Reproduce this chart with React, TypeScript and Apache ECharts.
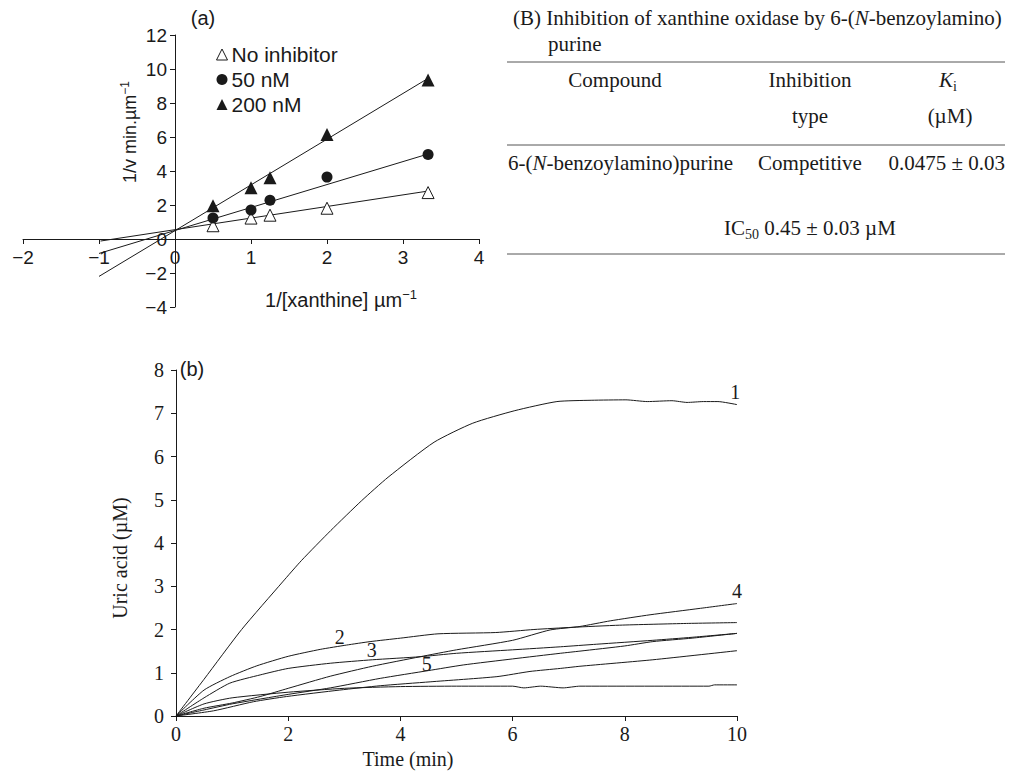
import React, { useEffect, useRef } from "react";
import * as echarts from "echarts";

// ---------- Panel (a): Lineweaver–Burk ----------
const invXanthine = [0.5, 1, 1.25, 2, 3.33];
const noInhibitor = [0.78, 1.23, 1.4, 1.81, 2.73];
const nm50 = [1.23, 1.7, 2.28, 3.64, 4.97];
const nm200 = [1.95, 3.02, 3.6, 6.14, 9.36];
// fitted straight lines: [x, y] end points
const fitNoInhibitor = [[-0.98, -0.12], [3.33, 2.82]];
const fit50 = [[-1.0, -0.85], [3.33, 5.0]];
const fit200 = [[-1.0, -2.2], [3.33, 9.45]];

// ---------- Panel (b): uric acid vs time ----------
const c1T = [0, 0.5, 1.17, 1.9, 2.24, 2.76, 3.31, 3.78, 4.6, 5.29, 6.04, 6.79, 7.4, 8.02, 8.4, 8.84, 9.11, 9.4, 9.66, 10];
const c1V = [0, 0.85, 2.0, 3.1, 3.6, 4.29, 4.98, 5.52, 6.33, 6.77, 7.06, 7.27, 7.3, 7.31, 7.27, 7.29, 7.25, 7.27, 7.27, 7.2];
const c2T = [0, 0.5, 0.96, 1.44, 2.0, 2.57, 3.04, 3.46, 4.0, 4.67, 5.7, 6.38, 7.06, 7.91, 9.1, 10];
const c2V = [0, 0.6, 0.91, 1.16, 1.38, 1.54, 1.64, 1.72, 1.8, 1.9, 1.93, 2.0, 2.05, 2.1, 2.14, 2.16];
const c3T = [0, 0.5, 0.96, 1.5, 2.0, 2.75, 3.5, 4.35, 5.0, 6.0, 6.85, 7.5, 8.5, 9.2, 10];
const c3V = [0, 0.42, 0.76, 0.95, 1.1, 1.22, 1.3, 1.37, 1.45, 1.53, 1.6, 1.66, 1.75, 1.82, 1.91];
const c4T = [0, 0.5, 1, 1.5, 2, 2.75, 3.5, 4.35, 5, 6, 6.67, 7.2, 7.74, 8.45, 9.35, 10];
const c4V = [0, 0.18, 0.3, 0.45, 0.64, 0.92, 1.15, 1.37, 1.53, 1.75, 1.99, 2.07, 2.2, 2.34, 2.49, 2.6];
const c5T = [0, 0.5, 1, 2, 2.75, 3.64, 4.5, 5.12, 6, 6.85, 7.2, 8, 8.5, 9.2, 10];
const c5V = [0, 0.14, 0.28, 0.5, 0.65, 0.87, 1.05, 1.18, 1.32, 1.45, 1.5, 1.62, 1.72, 1.8, 1.91];
const c6T = [0, 0.5, 1, 2, 3, 4, 5, 6, 6.2, 6.5, 6.9, 7.2, 9.5, 9.6, 10];
const c6V = [0, 0.28, 0.42, 0.55, 0.64, 0.68, 0.69, 0.69, 0.65, 0.69, 0.65, 0.69, 0.69, 0.72, 0.72];
const c7T = [0, 0.67, 1.38, 1.97, 2.92, 3.64, 4.53, 5.72, 6.31, 6.85, 7.2, 8.5, 10];
const c7V = [0, 0.12, 0.33, 0.45, 0.6, 0.7, 0.79, 0.91, 1.03, 1.1, 1.15, 1.3, 1.51];
const curveNames = ["1", "2", "3", "4", "5", "6", "7"];
// label anchor positions (data coordinates) for the curve numbers
const curveLabelT = [9.97, 2.92, 3.49, 10.0, 4.47, 10.17, 10.17];
const curveLabelV = [7.48, 1.83, 1.53, 2.9, 1.2, 0.75, 1.41];

const SANS = "Liberation Sans";
const SERIF = "Liberation Serif";
const INK = "#1a1a1a";

const zip = (xs: number[], ys: number[]) => xs.map((x, i) => [x, ys[i]]);
const minus = (v: number) => String(v).replace("-", "\u2212");

export default function App() {
  const ref = useRef<HTMLDivElement>(null);
  useEffect(() => {
    const chart = echarts.init(ref.current!, null, { renderer: "svg" });
    const curves = [zip(c1T, c1V), zip(c2T, c2V), zip(c3T, c3V), zip(c4T, c4V), zip(c5T, c5V), zip(c6T, c6V), zip(c7T, c7V)];

    const tableRich = {
      a: { fontFamily: SERIF, fontSize: 21, fill: INK, lineHeight: 26, verticalAlign: "middle" },
      i: { fontFamily: SERIF, fontSize: 21, fontStyle: "italic", fill: INK, lineHeight: 26, verticalAlign: "middle" },
      s: { fontFamily: SERIF, fontSize: 14, fill: INK, lineHeight: 26, verticalAlign: "bottom" },
    };
    const serifRich = {
      a: { fontFamily: SERIF, fontSize: 20, fill: INK, lineHeight: 24, verticalAlign: "middle" },
    };
    const sansRich = {
      a: { fontFamily: SANS, fontSize: 20, fill: INK, lineHeight: 24, verticalAlign: "middle" },
      y: { fontFamily: SANS, fontSize: 18, fill: INK, lineHeight: 22, verticalAlign: "middle" },
      b: { fontFamily: SANS, fontSize: 20, fill: INK, lineHeight: 22, verticalAlign: "middle" },
      p: { fontFamily: SANS, fontSize: 13, fill: INK, lineHeight: 24, verticalAlign: "top" },
      q: { fontFamily: SANS, fontSize: 12, fill: INK, lineHeight: 22, verticalAlign: "top" },
    };
    const rt = (x: number, y: number, text: string, rich: any, align = "left", rotation = 0) => ({
      type: "text",
      x,
      y,
      rotation,
      style: {
        text,
        rich,
        align,
        verticalAlign: "middle",
        textAlign: align,
        textVerticalAlign: "middle",
      },
    });
    const hline = (x1: number, x2: number, y: number) => ({
      type: "line",
      shape: { x1, y1: y, x2, y2: y },
      style: { stroke: "#555", lineWidth: 1 },
    });

    const lineStyleA = { color: INK, width: 1 };

    chart.setOption({
      animation: false,
      backgroundColor: "#fff",
      grid: [
        { left: 23, top: 35, width: 456, height: 272 },
        { left: 176, top: 370, width: 561, height: 346 },
      ],
      xAxis: [
        {
          gridIndex: 0, type: "value", min: -2, max: 4, interval: 1,
          position: "bottom", offset: -68,
          axisLine: { onZero: false, lineStyle: { color: INK, width: 1 } },
          axisTick: { show: true, length: 5, lineStyle: { color: INK } },
          axisLabel: { color: INK, fontFamily: SANS, fontSize: 19, margin: 9, formatter: minus },
          splitLine: { show: false },
        },
        {
          gridIndex: 1, type: "value", min: 0, max: 10, interval: 2,
          axisLine: { lineStyle: { color: INK, width: 1 } },
          axisTick: { show: true, length: 5, lineStyle: { color: INK } },
          axisLabel: { color: INK, fontFamily: SERIF, fontSize: 20, margin: 8 },
          splitLine: { show: false },
        },
      ],
      yAxis: [
        {
          gridIndex: 0, type: "value", min: -4, max: 12, interval: 2,
          position: "left", offset: -152,
          axisLine: { show: true, onZero: false, lineStyle: { color: INK, width: 1 } },
          axisTick: { show: true, length: 5, lineStyle: { color: INK } },
          axisLabel: { color: INK, fontFamily: SANS, fontSize: 19, margin: 8, formatter: minus },
          splitLine: { show: false },
        },
        {
          gridIndex: 1, type: "value", min: 0, max: 8, interval: 1,
          axisLine: { show: true, lineStyle: { color: INK, width: 1 } },
          axisTick: { show: true, length: 5, lineStyle: { color: INK } },
          axisLabel: { color: INK, fontFamily: SERIF, fontSize: 20, margin: 12 },
          splitLine: { show: false },
        },
      ],
      legend: {
        orient: "vertical",
        left: 216,
        top: 44,
        padding: 0,
        itemGap: 4,
        itemWidth: 11,
        itemHeight: 11,
        textStyle: { fontFamily: SANS, fontSize: 21, color: INK, padding: [0, 0, 0, -1] },
        data: [
          { name: "No inhibitor", icon: "triangle", itemStyle: { color: "#fff", borderColor: INK, borderWidth: 1 } },
          { name: "50 nM", icon: "circle", itemStyle: { color: INK } },
          { name: "200 nM", icon: "triangle", itemStyle: { color: INK } },
        ],
      },
      series: [
        { type: "line", xAxisIndex: 0, yAxisIndex: 0, data: fitNoInhibitor, showSymbol: false, lineStyle: lineStyleA, silent: true },
        { type: "line", xAxisIndex: 0, yAxisIndex: 0, data: fit50, showSymbol: false, lineStyle: lineStyleA, silent: true },
        { type: "line", xAxisIndex: 0, yAxisIndex: 0, data: fit200, showSymbol: false, lineStyle: lineStyleA, silent: true },
        {
          name: "No inhibitor", type: "scatter", xAxisIndex: 0, yAxisIndex: 0, symbol: "triangle", symbolSize: 12,
          itemStyle: { color: "#fff", borderColor: INK, borderWidth: 1, opacity: 1 }, data: zip(invXanthine, noInhibitor), z: 5,
        },
        {
          name: "50 nM", type: "scatter", xAxisIndex: 0, yAxisIndex: 0, symbol: "circle", symbolSize: 11,
          itemStyle: { color: INK, opacity: 1 }, data: zip(invXanthine, nm50), z: 5,
        },
        {
          name: "200 nM", type: "scatter", xAxisIndex: 0, yAxisIndex: 0, symbol: "triangle", symbolSize: 13,
          itemStyle: { color: INK, opacity: 1 }, data: zip(invXanthine, nm200), z: 5,
        },
        ...curves.map((d, k) => ({
          name: "curve " + curveNames[k],
          type: "line",
          xAxisIndex: 1,
          yAxisIndex: 1,
          data: d,
          showSymbol: false,
          smooth: 0.2,
          lineStyle: { color: INK, width: 1 },
          silent: true,
          markPoint: {
            symbol: "circle",
            symbolSize: 0,
            silent: true,
            label: {
              show: true,
              position: "inside",
              formatter: curveNames[k],
              color: INK,
              fontFamily: SERIF,
              fontSize: 20,
            },
            data: [{ coord: [curveLabelT[k], curveLabelV[k]] }],
          },
        })),
      ],
      graphic: [
        // panel (a) texts
        rt(203, 18, "{b|(a)}", sansRich, "center"),
        rt(130, 132, "{y|1/v min.\u00b5m}{q|\u22121}", sansRich, "center", Math.PI / 2),
        rt(341, 300, "{a|1/[xanthine] \u00b5m}{p|\u22121}", sansRich, "center"),
        // panel (b) texts
        rt(192, 369, "{b|(b)}", sansRich, "center"),
        rt(408, 759, "{a|Time (min)}", serifRich, "center"),
        rt(120, 558, "{a|Uric acid (\u00b5M)}", serifRich, "center", Math.PI / 2),
        // table (B)
        rt(513, 18, "{a|(B) Inhibition of xanthine oxidase by 6-(}{i|N}{a|-benzoylamino)}", tableRich, "left"),
        rt(548, 44, "{a|purine}", tableRich, "left"),
        hline(507, 1005, 62),
        rt(615, 80, "{a|Compound}", tableRich, "center"),
        rt(810, 80, "{a|Inhibition}", tableRich, "center"),
        rt(810, 116, "{a|type}", tableRich, "center"),
        rt(948, 80, "{i|K}{s|i}", tableRich, "center"),
        rt(950, 116, "{a|(\u00b5M)}", tableRich, "center"),
        hline(507, 1005, 145),
        rt(508, 163, "{a|6-(}{i|N}{a|-benzoylamino)purine}", tableRich, "left"),
        rt(810, 163, "{a|Competitive}", tableRich, "center"),
        rt(1005, 163, "{a|0.0475 \u00b1 0.03}", tableRich, "right"),
        rt(810, 228, "{a|IC}{s|50}{a| 0.45 \u00b1 0.03 \u00b5M}", tableRich, "center"),
        hline(507, 1005, 254),
      ],
    });
    return () => chart.dispose();
  }, []);
  return <div ref={ref} style={{ position: "absolute", left: 0, top: 0, width: 1014, height: 773, background: "#fff" }} />;
}
